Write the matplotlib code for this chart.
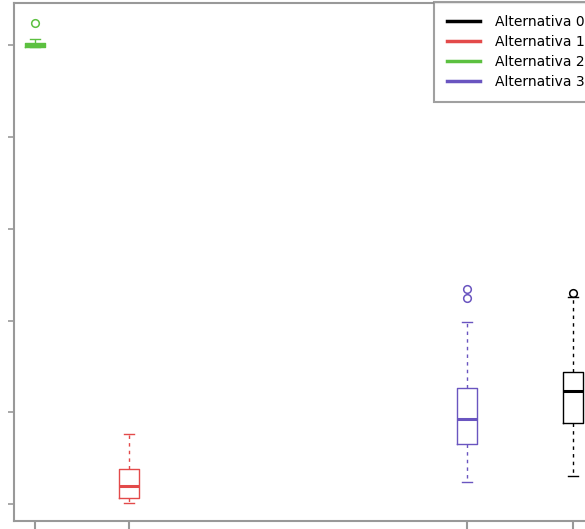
import matplotlib
matplotlib.use('Agg')
import matplotlib.pyplot as plt

# box statistics (one entry per alternative, drawn left to right)
labels = ['Alternativa 2', 'Alternativa 1', 'Alternativa 3', 'Alternativa 0']
positions = [0.35, 1.29, 4.67, 5.73]
whislo = [4.98, 0.011, 0.240, 0.305]
q1 = [4.98, 0.065, 0.654, 0.883]
med = [5.00, 0.196, 0.927, 1.232]
q3 = [5.03, 0.382, 1.265, 1.439]
whishi = [5.07, 0.763, 1.985, 2.257]
fliers = [[5.25], [], [2.34, 2.25], [2.30]]
colors = ['#5cc040', '#e34a4a', '#6a55c0', '#000000']

legend_labels = ['Alternativa 0', 'Alternativa 1', 'Alternativa 2', 'Alternativa 3']
legend_colors = ['#000000', '#e34a4a', '#5cc040', '#6a55c0']

fig = plt.figure(figsize=(5.85, 5.29), dpi=100)
ax = fig.add_axes([14 / 585, 8 / 529, 596 / 585, 518 / 529])

for i in range(len(labels)):
    st = {'label': labels[i], 'whislo': whislo[i], 'q1': q1[i], 'med': med[i],
          'q3': q3[i], 'whishi': whishi[i], 'fliers': fliers[i]}
    c = colors[i]
    ax.bxp([st], positions=[positions[i]], widths=0.2, capwidths=0.1,
           boxprops=dict(color=c, linewidth=1.0),
           medianprops=dict(color=c, linewidth=2.2),
           whiskerprops=dict(color=c, linewidth=1.0, linestyle=(0, (2.5, 3))),
           capprops=dict(color=c, linewidth=1.0),
           flierprops=dict(marker='o', markersize=5.5, markerfacecolor='none',
                           markeredgecolor=c, markeredgewidth=1.1))

ax.set_xlim(0.14, 6.1)
ax.set_ylim(-0.185, 5.463)
ax.set_yticks(range(6))
ax.set_xticks(positions)
ax.tick_params(axis='y', direction='out', length=4, width=1.2, color='#999999', labelleft=False)
ax.tick_params(axis='x', direction='out', length=10, width=1.5, color='#999999', labelbottom=False)
for s in ax.spines.values():
    s.set_color('#999999')
    s.set_linewidth(1.5)

handles = [plt.Line2D([], [], color=c, linewidth=2.5) for c in legend_colors]
leg = fig.legend(handles, legend_labels, loc='upper left',
                 bbox_to_anchor=(434 / 585, 1 - 2 / 529), bbox_transform=fig.transFigure,
                 borderaxespad=0, fontsize=10, fancybox=False, frameon=True,
                 handlelength=2.4, handletextpad=1.1, labelspacing=0.45, borderpad=0.9)
leg.get_frame().set_edgecolor('#888888')
leg.get_frame().set_linewidth(1.5)

fig.savefig('out.png', dpi=100)
